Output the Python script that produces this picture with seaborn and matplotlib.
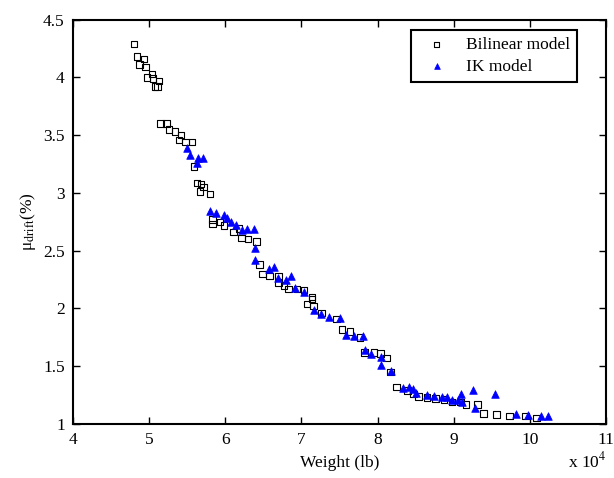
import numpy as np
import pandas as pd
import matplotlib
matplotlib.use("Agg")
import matplotlib.pyplot as plt
import seaborn as sns

# Bilinear model points (weight in units of 1e4 lb, drift in %)
bilinear_w = [4.80, 4.84, 4.93, 4.87, 4.95, 5.035, 4.97, 5.05, 5.13, 5.075, 5.11,
              5.15, 5.23, 5.26, 5.34, 5.42, 5.39, 5.48, 5.56, 5.59, 5.63, 5.68,
              5.71, 5.67, 5.80, 5.83, 5.83, 5.93, 5.98, 6.11, 6.18, 6.21, 6.30,
              6.41, 6.45, 6.49, 6.58, 6.70, 6.70, 6.77, 6.83, 6.94, 7.03, 7.14,
              7.14, 7.07, 7.16, 7.26, 7.46, 7.53, 7.64, 7.77, 7.83, 7.95, 8.04,
              8.12, 8.17, 8.25, 8.39, 8.47, 8.54, 8.65, 8.76, 8.87, 8.98, 9.09,
              9.16, 9.31, 9.39, 9.56, 9.73, 9.94, 10.09]
bilinear_d = [4.29, 4.18, 4.16, 4.11, 4.09, 4.03, 4.00, 3.99, 3.97, 3.92, 3.92,
              3.60, 3.60, 3.55, 3.53, 3.50, 3.46, 3.44, 3.44, 3.23, 3.085, 3.075,
              3.05, 3.01, 2.99, 2.77, 2.73, 2.75, 2.72, 2.66, 2.69, 2.61, 2.60,
              2.58, 2.38, 2.30, 2.28, 2.28, 2.22, 2.20, 2.17, 2.17, 2.16, 2.10,
              2.08, 2.04, 2.02, 1.96, 1.91, 1.82, 1.80, 1.75, 1.62, 1.62, 1.61,
              1.57, 1.45, 1.32, 1.29, 1.26, 1.24, 1.23, 1.22, 1.21, 1.19, 1.19,
              1.17, 1.17, 1.09, 1.08, 1.07, 1.07, 1.05]

# IK model points
ik_w = [5.50, 5.54, 5.64, 5.71, 5.63, 5.80, 5.88, 5.98, 6.02, 6.08, 6.14, 6.22,
        6.28, 6.38, 6.39, 6.39, 6.57, 6.64, 6.69, 6.80, 6.86, 6.92, 7.03, 7.17,
        7.26, 7.36, 7.51, 7.59, 7.69, 7.81, 7.83, 7.91, 8.05, 8.05, 8.17, 8.34,
        8.41, 8.47, 8.51, 8.65, 8.74, 8.85, 8.91, 8.98, 9.06, 9.09, 9.11, 9.25,
        9.28, 9.54, 9.82, 9.98, 10.14, 10.24]
ik_d = [3.39, 3.33, 3.30, 3.30, 3.26, 2.84, 2.825, 2.81, 2.78, 2.75, 2.72, 2.68,
        2.69, 2.69, 2.52, 2.42, 2.34, 2.36, 2.26, 2.25, 2.28, 2.18, 2.14, 1.99,
        1.95, 1.93, 1.92, 1.77, 1.76, 1.76, 1.64, 1.61, 1.58, 1.51, 1.46, 1.31,
        1.32, 1.30, 1.27, 1.25, 1.24, 1.23, 1.23, 1.21, 1.21, 1.26, 1.19, 1.29,
        1.14, 1.26, 1.09, 1.08, 1.07, 1.07]

sns.set_style("ticks")
plt.rcParams['font.family'] = ['Liberation Serif', 'DejaVu Serif']
plt.rcParams['mathtext.fontset'] = 'stix'
plt.rcParams['text.color'] = 'black'
plt.rcParams['axes.labelcolor'] = 'black'
plt.rcParams['xtick.color'] = 'black'
plt.rcParams['ytick.color'] = 'black'

fig = plt.figure(figsize=(6.14, 4.78), dpi=100)
ax = fig.add_axes([0.119, 0.113, 0.868, 0.846])

sns.scatterplot(x=bilinear_w, y=bilinear_d, ax=ax, marker='s', s=22,
                facecolor='none', edgecolor='black', linewidth=0.8,
                label='Bilinear model')
sns.scatterplot(x=ik_w, y=ik_d, ax=ax, marker='^', s=30,
                color='blue', edgecolor='blue', linewidth=0.5,
                label='IK model')

ax.set_xlim(4, 11)
ax.set_ylim(1, 4.5)
ax.set_xticks(np.arange(4, 12, 1))
ax.set_xticklabels([str(v) for v in range(4, 12)])
ax.set_yticks(np.arange(1, 4.51, 0.5))
ax.set_yticklabels(['1', '1.5', '2', '2.5', '3', '3.5', '4', '4.5'])
ax.tick_params(direction='in', top=True, right=True, labelsize=12.5, length=5,
               width=1, pad=6)
for sp in ax.spines.values():
    sp.set_visible(True)
    sp.set_linewidth(1.5)
    sp.set_color('black')

ax.set_xlabel('Weight (lb)', fontsize=12.5, labelpad=5)
ax.set_ylabel('μ$_{\\rm drift}$(%)', fontsize=12.5, labelpad=4)
fig.text(0.925, 0.022, r'x 10$^4$', fontsize=12.5)

leg = ax.legend(loc='upper right', bbox_to_anchor=(0.946, 0.975),
                borderaxespad=0, fontsize=12.5, frameon=True, fancybox=False,
                framealpha=1, edgecolor='black', markerscale=0.75,
                handlelength=2.2, handletextpad=0.6, borderpad=0.4,
                labelspacing=0.35)
leg.get_frame().set_linewidth(1.5)

fig.savefig('out.png', dpi=100)
